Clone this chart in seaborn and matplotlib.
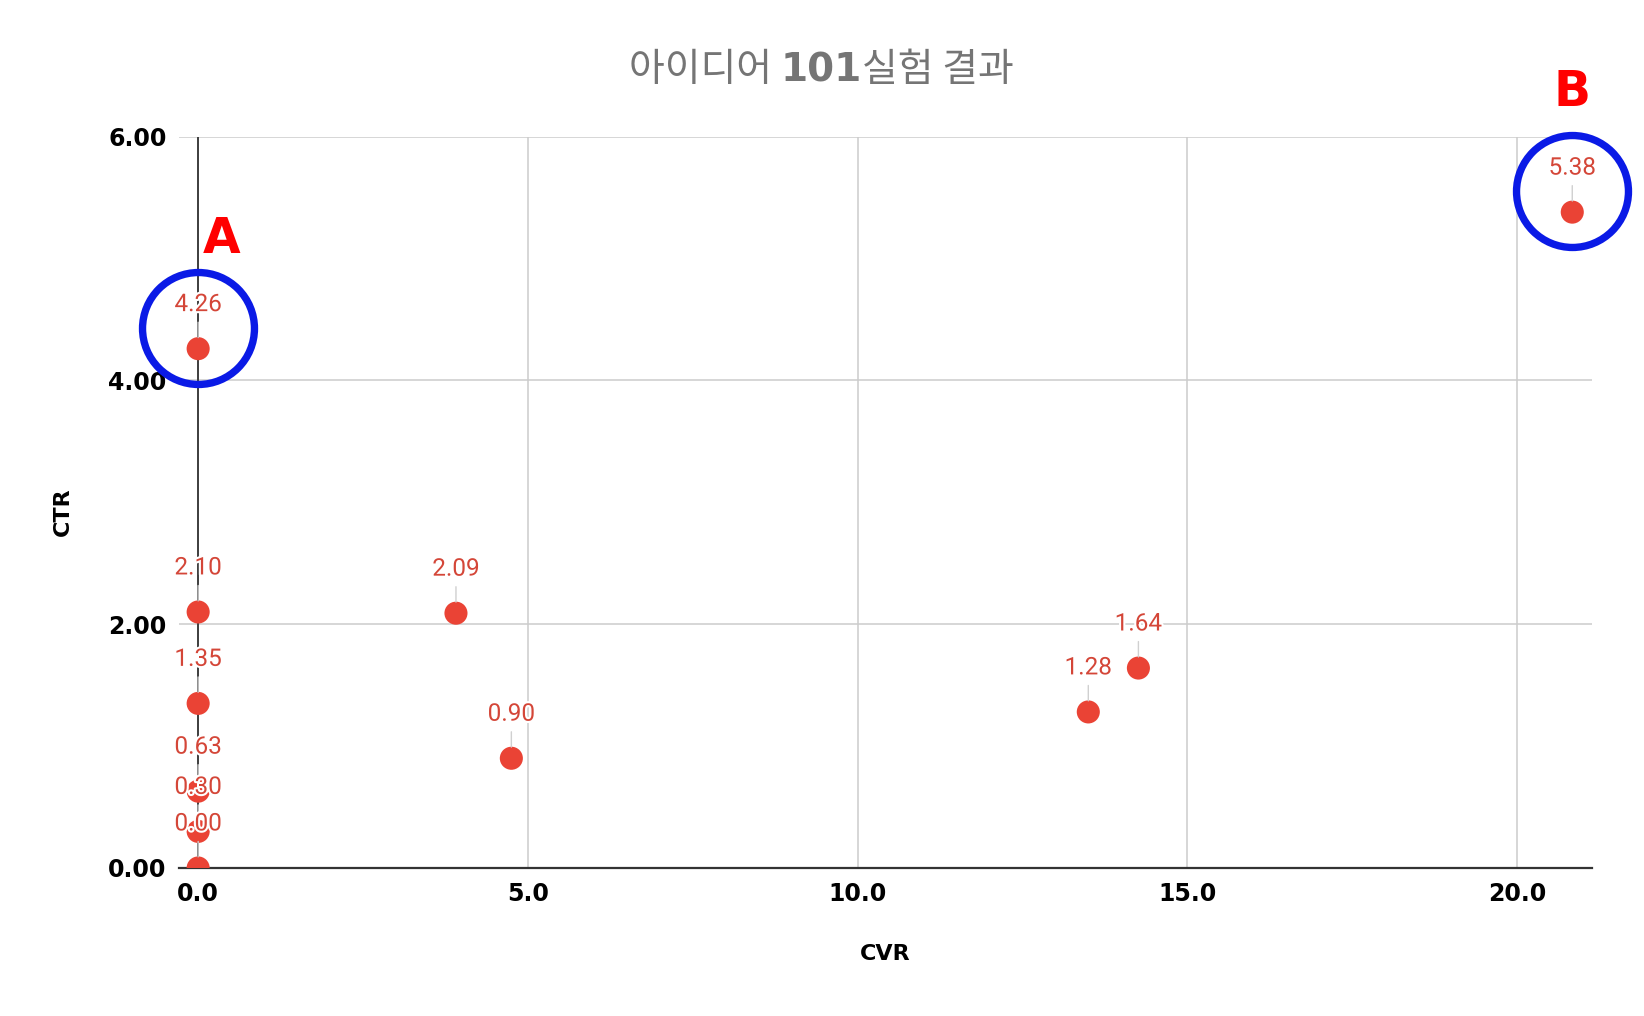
import numpy as np
import pandas as pd
import matplotlib
matplotlib.use('Agg')
import matplotlib.pyplot as plt
import matplotlib.patheffects as pe
from matplotlib.transforms import ScaledTranslation
from matplotlib.offsetbox import TextArea, HPacker, AnnotationBbox
from matplotlib.ticker import FormatStrFormatter
import seaborn as sns

# 데이터
cvr = [0.0, 0.0, 0.0, 0.0, 0.0, 0.0, 3.91, 4.75, 13.50, 14.26, 20.84]
ctr = [4.26, 2.10, 1.35, 0.63, 0.30, 0.00, 2.09, 0.90, 1.28, 1.64, 5.38]
x_ticks = [0, 5, 10, 15, 20]
y_ticks = [0, 2, 4, 6]

# 강조 표시 (A, B)
mark_names = ['A', 'B']
mark_index = [0, 10]

df = pd.DataFrame({'CVR': cvr, 'CTR': ctr})

sns.set_theme(style='white')
plt.rcParams['font.family'] = ['Noto Sans CJK KR', 'DejaVu Sans']

fig = plt.figure(figsize=(16.44, 10.16), dpi=100)
ax = fig.add_axes([0.1089, 0.1457, 0.8595, 0.7199])

point_color = '#ea4335'
label_color = '#d44638'

sns.scatterplot(data=df, x='CVR', y='CTR', s=276, color=point_color,
                edgecolor='none', ax=ax, zorder=3)

# 데이터 라벨 + 연결선
for xv, yv in zip(df['CVR'], df['CTR']):
    ax.annotate(f'{yv:.2f}', (xv, yv), xytext=(0, 31.7), textcoords='offset points',
                ha='center', va='center', fontsize=17.5, color=label_color,
                family=['Roboto', 'DejaVu Sans'], zorder=4,
                path_effects=[pe.withStroke(linewidth=3, foreground='white')],
                arrowprops=dict(arrowstyle='-', color='#d0d0d0', lw=1,
                                shrinkA=2, shrinkB=8))

# 파란 원 + 글자
letter_offsets = [(23, 110), (0, 120)]
for name, idx, (dx, dy) in zip(mark_names, mark_index, letter_offsets):
    tr = ax.transData + ScaledTranslation(0, 21 / 100, fig.dpi_scale_trans)
    ax.plot([cvr[idx]], [ctr[idx]], marker='o', markersize=80.6, mfc='none',
            mec='#0a1ae6', mew=5.3, transform=tr, clip_on=False, zorder=5)
    ax.annotate(name, (cvr[idx], ctr[idx]), xytext=(dx * 0.72, dy * 0.72),
                textcoords='offset points', ha='center', va='center',
                fontsize=35, fontweight='bold', color='#ff0000',
                family=['DejaVu Sans'], annotation_clip=False, zorder=6)

ax.set_xlim(-0.29, 21.14)
ax.set_ylim(0, 6)
ax.set_xticks(x_ticks)
ax.set_yticks(y_ticks)
ax.xaxis.set_major_formatter(FormatStrFormatter('%.1f'))
ax.yaxis.set_major_formatter(FormatStrFormatter('%.2f'))
ax.tick_params(length=0, labelsize=17)
ax.tick_params(axis='y', pad=9)
ax.tick_params(axis='x', pad=10)
for lab in ax.get_xticklabels() + ax.get_yticklabels():
    lab.set_fontweight('heavy')
    lab.set_family('DejaVu Sans')
    lab.set_color('black')

ax.grid(True, color='#cccccc', lw=1.1)
ax.set_axisbelow(True)
ax.axvline(0, color='#333333', lw=1.3, zorder=2)
for side in ['top', 'right', 'left']:
    ax.spines[side].set_visible(False)
ax.spines['bottom'].set_color('#333333')
ax.spines['bottom'].set_linewidth(1.6)
ax.spines['bottom'].set_zorder(2.5)

ax.set_xlabel('CVR', fontsize=16, fontweight='bold', family='DejaVu Sans', color='black')
ax.set_ylabel('CTR', fontsize=16, fontweight='bold', family='DejaVu Sans', color='black')
ax.xaxis.set_label_coords(0.5, -0.104)
ax.yaxis.set_label_coords(-0.075, 0.487)

# 제목 (101만 굵게)
tp = dict(color='#757575', fontsize=28, family=['Noto Sans CJK KR', 'DejaVu Sans'])
title_box = HPacker(children=[
    TextArea('아이디어 ', textprops=tp),
    TextArea('101', textprops={**tp, 'fontweight': 'bold', 'family': ['DejaVu Sans']}),
    TextArea('실험 결과', textprops=tp),
], align='baseline', pad=0, sep=0)
fig.add_artist(AnnotationBbox(title_box, (0.4994, 0.931), xycoords='figure fraction',
                              frameon=False, box_alignment=(0.5, 0.5)))

fig.savefig('out.png', dpi=100)
